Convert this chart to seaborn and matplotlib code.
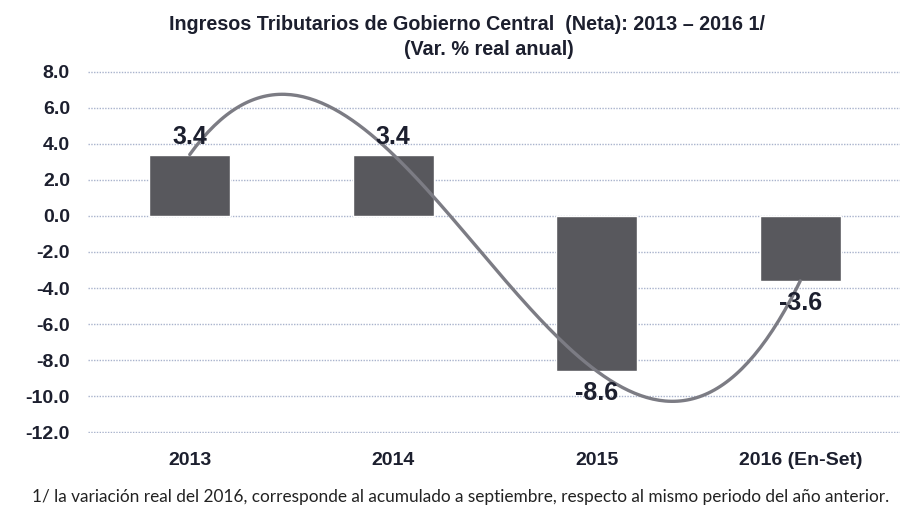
import numpy as np
import pandas as pd
import seaborn as sns
import matplotlib
matplotlib.use('Agg')
import matplotlib.pyplot as plt

# data
years = ["2013", "2014", "2015", "2016 (En-Set)"]
var_real = [3.4, 3.4, -8.6, -3.6]
y_ticks = [8.0, 6.0, 4.0, 2.0, 0.0, -2.0, -4.0, -6.0, -8.0, -10.0, -12.0]

title_1 = "Ingresos Tributarios de Gobierno Central  (Neta): 2013 \u2013 2016 1/"
title_2 = "(Var. % real anual)"
nota = "1/ la variaci\u00f3n real del 2016, corresponde al acumulado a septiembre, respecto al mismo periodo del a\u00f1o anterior."

sns.set_theme(style="white")
plt.rcParams['font.family'] = ['Liberation Sans', 'DejaVu Sans']

txt_color = '#1c1f2e'
bar_color = '#58585d'
line_color = '#7c7c84'
grid_color = '#a9b3cc'

df = pd.DataFrame({'year': years, 'var': var_real})

fig = plt.figure(figsize=(9, 5.18), dpi=100)
ax = fig.add_axes([88/900, 85/518, 814/900, 362/518])

sns.barplot(data=df, x='year', y='var', color=bar_color, width=0.4,
            saturation=1, ax=ax, zorder=2)

# polynomial trendline (order 3) over the bars, like the excel one
pos = np.arange(len(years))
coef = np.polyfit(pos, var_real, 3)
xs = np.linspace(pos[0], pos[-1], 200)
trend = pd.DataFrame({'x': xs, 'y': np.polyval(coef, xs)})
sns.lineplot(data=trend, x='x', y='y', color=line_color, lw=2.4, ax=ax, zorder=3)

# data labels
for i, v in enumerate(var_real):
    if v >= 0:
        ax.annotate(f"{v:.1f}", (i, v), xytext=(0, 4), textcoords='offset points',
                    ha='center', va='bottom', fontsize=18, fontweight='bold',
                    color=txt_color, zorder=4)
    else:
        ax.annotate(f"{v:.1f}", (i, v), xytext=(0, -7), textcoords='offset points',
                    ha='center', va='top', fontsize=18, fontweight='bold',
                    color=txt_color, zorder=4)

ax.set_ylim(-12.03, 8.03)
ax.set_xlim(-0.5, 3.5)
ax.set_yticks(y_ticks)
ax.set_yticklabels([f"{t:.1f}" for t in y_ticks])
ax.yaxis.grid(True, color=grid_color, linestyle=(0, (1, 1)), lw=1)
ax.set_axisbelow(True)
for s in ax.spines.values():
    s.set_visible(False)
ax.tick_params(axis='y', length=0, pad=13, labelsize=14, labelcolor=txt_color)
ax.tick_params(axis='x', length=0, pad=14, labelsize=14, labelcolor=txt_color)
for lab in ax.get_xticklabels() + ax.get_yticklabels():
    lab.set_fontweight('bold')
ax.set_xlabel('')
ax.set_ylabel('')

fig.text(467/900, 1 - 30/518, title_1, ha='center', va='baseline',
         fontsize=14.2, fontweight='bold', color=txt_color)
fig.text(489/900, 1 - 55/518, title_2, ha='center', va='baseline',
         fontsize=14.2, fontweight='bold', color=txt_color)
fig.text(32/900, 1 - 502/518, nota, ha='left', va='baseline',
         fontsize=12.4, color='#222222', family=['Lato', 'DejaVu Sans'])

fig.savefig('out.png', dpi=100, facecolor='white')
